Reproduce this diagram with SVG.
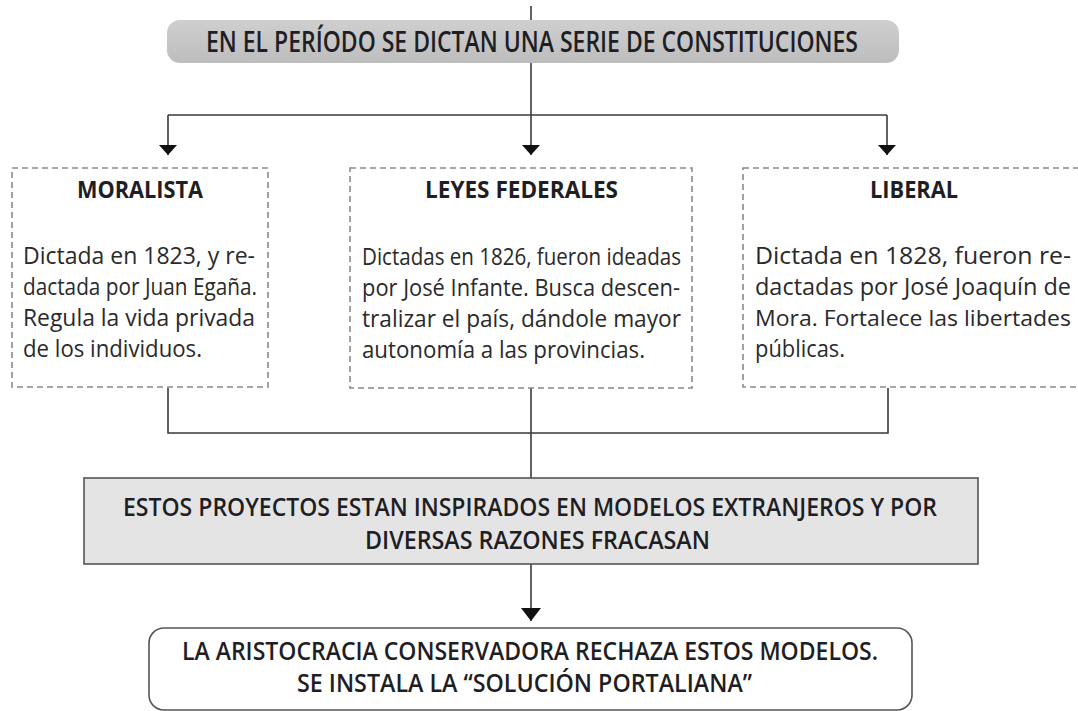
<svg xmlns="http://www.w3.org/2000/svg" width="1078" height="711" viewBox="0 0 1078 711">
<style>
.t{font-family:"Open Sans","Liberation Sans",sans-serif;fill:#1e1e24}
.hd{font-size:26px;font-weight:600}
.ttl{font-size:24px;font-weight:700}
.body{font-size:24px;fill:#2a2a2a}
.dash{fill:#fff;stroke:#8a8a8a;stroke-width:1.6;stroke-dasharray:6 4}
.ln{fill:none;stroke:#3a3a3a;stroke-width:1.6}
</style>
<defs>
<marker id="ah" markerWidth="10" markerHeight="18" refX="10" refY="9" orient="auto" markerUnits="userSpaceOnUse" viewBox="0 0 10 18">
<path d="M0,0 L10,9 L0,18 Z" fill="#111"/>
</marker>
<marker id="ah2" markerWidth="13" markerHeight="20" refX="13" refY="10" orient="auto" markerUnits="userSpaceOnUse" viewBox="0 0 13 20">
<path d="M0,0 L13,10 L0,20 Z" fill="#111"/>
</marker>
<linearGradient id="g1" x1="0" y1="0" x2="0" y2="1">
<stop offset="0" stop-color="#cfcfcf"/>
<stop offset="1" stop-color="#bdbdbd"/>
</linearGradient>
</defs>
<g id="connectors">
<path class="ln" d="M531,6 V20"/>
<path class="ln" d="M531,63 V115"/>
<path class="ln" d="M168,115 H887"/>
<path class="ln" d="M168,115 V155" marker-end="url(#ah)"/>
<path class="ln" d="M531,115 V155" marker-end="url(#ah)"/>
<path class="ln" d="M887,115 V155" marker-end="url(#ah)"/>
<path class="ln" d="M168,388 V433 H888 V388"/>
<path class="ln" d="M531,388 V478"/>
<path class="ln" d="M531,564 V621" marker-end="url(#ah2)"/>
</g>
<g id="node-top">
<rect x="167" y="20" width="732" height="43" rx="13" fill="url(#g1)"/>
<text class="t hd" x="532" y="52" text-anchor="middle" textLength="652" lengthAdjust="spacingAndGlyphs" style="font-size:28px">EN EL PERÍODO SE DICTAN UNA SERIE DE CONSTITUCIONES</text>
</g>
<g id="node-moralista">
<rect class="dash" x="12" y="168" width="256" height="219"/>
<text class="t ttl" x="77" y="198" textLength="126" lengthAdjust="spacingAndGlyphs">MORALISTA</text>
<text class="t body" x="23" y="264" textLength="232" lengthAdjust="spacingAndGlyphs">Dictada en 1823, y re-</text>
<text class="t body" x="23" y="295" textLength="234" lengthAdjust="spacingAndGlyphs">dactada por Juan Egaña.</text>
<text class="t body" x="23" y="326" textLength="232" lengthAdjust="spacingAndGlyphs">Regula la vida privada</text>
<text class="t body" x="23" y="357" textLength="179" lengthAdjust="spacingAndGlyphs">de los individuos.</text>
</g>
<g id="node-leyes">
<rect class="dash" x="350" y="168" width="342" height="220"/>
<text class="t ttl" x="425" y="198" textLength="193" lengthAdjust="spacingAndGlyphs">LEYES FEDERALES</text>
<text class="t body" x="362" y="265" textLength="319" lengthAdjust="spacingAndGlyphs">Dictadas en 1826, fueron ideadas</text>
<text class="t body" x="362" y="296" textLength="318" lengthAdjust="spacingAndGlyphs">por José Infante. Busca descen-</text>
<text class="t body" x="362" y="327" textLength="319" lengthAdjust="spacingAndGlyphs">tralizar el país, dándole mayor</text>
<text class="t body" x="362" y="358" textLength="283" lengthAdjust="spacingAndGlyphs">autonomía a las provincias.</text>
</g>
<g id="node-liberal">
<rect class="dash" x="743" y="168" width="342" height="219"/>
<text class="t ttl" x="870" y="198" textLength="88" lengthAdjust="spacingAndGlyphs">LIBERAL</text>
<text class="t body" x="755" y="264" textLength="316" lengthAdjust="spacingAndGlyphs">Dictada en 1828, fueron re-</text>
<text class="t body" x="755" y="295" textLength="316" lengthAdjust="spacingAndGlyphs">dactadas por José Joaquín de</text>
<text class="t body" x="755" y="326" textLength="316" lengthAdjust="spacingAndGlyphs" style="font-size:22.5px">Mora. Fortalece las libertades</text>
<text class="t body" x="755" y="357" textLength="90" lengthAdjust="spacingAndGlyphs">públicas.</text>
</g>
<g id="node-proyectos">
<rect x="84" y="478" width="894" height="86" fill="#e4e4e4" stroke="#555" stroke-width="1.6"/>
<text class="t hd" x="123" y="516" textLength="814" lengthAdjust="spacingAndGlyphs">ESTOS PROYECTOS ESTAN INSPIRADOS EN MODELOS EXTRANJEROS Y POR</text>
<text class="t hd" x="365" y="549" textLength="345" lengthAdjust="spacingAndGlyphs">DIVERSAS RAZONES FRACASAN</text>
</g>
<g id="node-aristocracia">
<rect x="149" y="628" width="763" height="82" rx="15" fill="#fff" stroke="#555" stroke-width="1.6"/>
<text class="t hd" x="182" y="660" textLength="696" lengthAdjust="spacingAndGlyphs" style="font-size:25px">LA ARISTOCRACIA CONSERVADORA RECHAZA ESTOS MODELOS.</text>
<text class="t hd" x="297" y="692" textLength="455" lengthAdjust="spacingAndGlyphs" style="font-size:25px">SE INSTALA LA “SOLUCIÓN PORTALIANA”</text>
</g>
</svg>
